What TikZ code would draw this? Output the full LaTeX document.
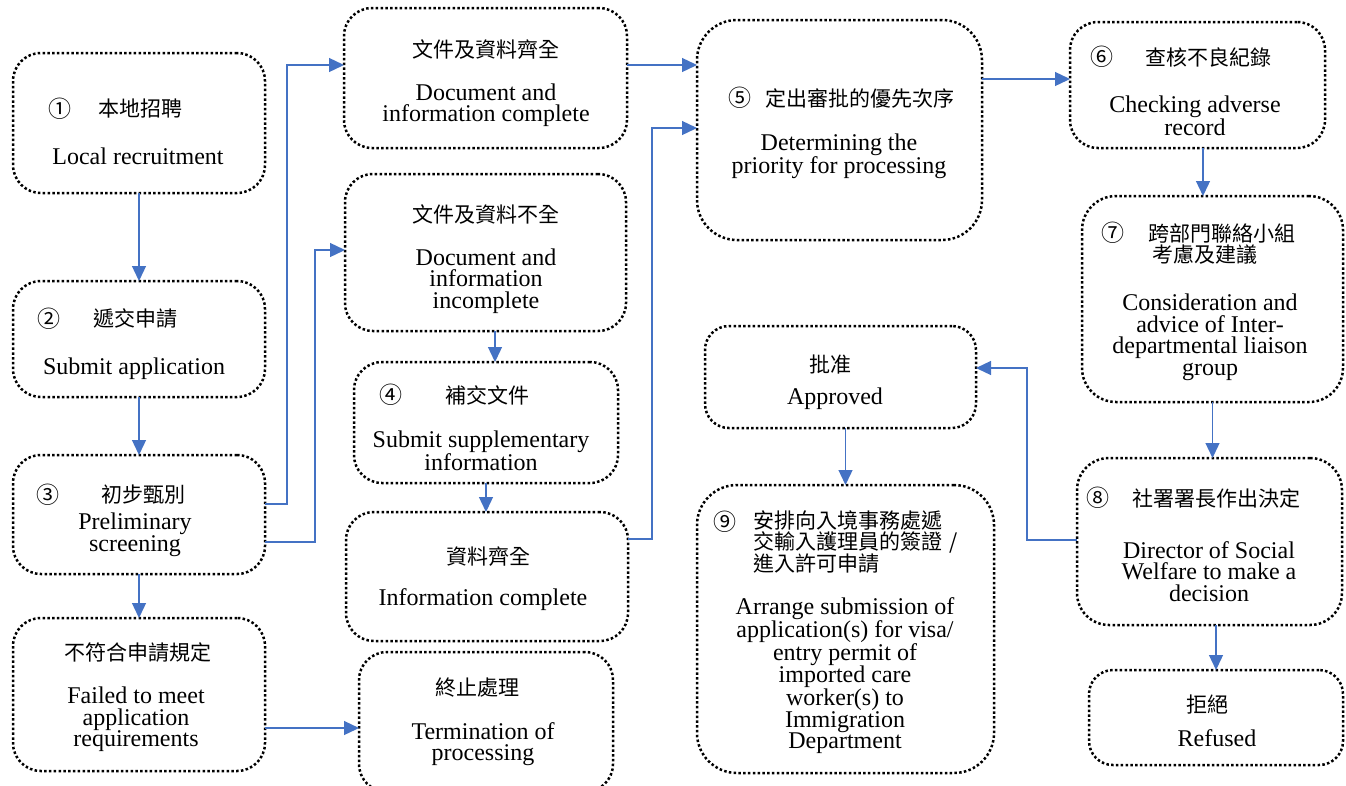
\documentclass[tikz,border=0pt]{standalone}
\usepackage{fontspec}
\setmainfont{Liberation Serif}
\newfontfamily\cjk{Noto Sans CJK TC}
\usetikzlibrary{arrows.meta}
\definecolor{conblue}{RGB}{68,114,196}
\tikzset{
  box/.style={draw=black, line width=2.5pt, dash pattern=on 2.5pt off 2.3pt, rounded corners=28pt, rectangle, inner sep=0pt, outer sep=0pt},
  conn/.style={draw=conblue, line width=1.3pt, -{Triangle[length=15pt,width=14pt]}},
  en/.style={inner sep=0pt, align=center, font=\fontsize{24}{21.5}\selectfont},
  zh/.style={inner sep=0pt, font=\cjk\fontsize{21}{21}\selectfont},
  zhml/.style={inner sep=0pt, align=left, anchor=west, font=\cjk\fontsize{21}{21.5}\selectfont},
  num/.style={inner sep=0pt, font=\cjk\fontsize{23}{23}\selectfont},
}
\begin{document}
\begin{tikzpicture}[x=1pt,y=-1pt]
\useasboundingbox (0,0) rectangle (1346,785);
% boxes
\node[box, minimum width=252pt, minimum height=140pt] (b1) at (139,123) {};
\node[box, minimum width=252pt, minimum height=116pt] (b2) at (139,339) {};
\node[box, minimum width=252pt, minimum height=119pt] (b3) at (139,514.5) {};
\node[box, minimum width=252pt, minimum height=153pt] (b4) at (139,694.5) {};
\node[box, minimum width=283pt, minimum height=140pt] (bA) at (485.5,78) {};
\node[box, minimum width=281pt, minimum height=157pt] (bB) at (485.5,252.5) {};
\node[box, minimum width=264pt, minimum height=121pt] (bC) at (486,422.5) {};
\node[box, minimum width=282pt, minimum height=129pt] (bD) at (487,576.5) {};
\node[box, minimum width=254pt, minimum height=140pt] (bE) at (486,722) {};
\node[box, rounded corners=40pt, minimum width=285pt, minimum height=220pt] (b5) at (839.5,130) {};
\node[box, minimum width=255pt, minimum height=126pt] (b6) at (1197.5,85) {};
\node[box, rounded corners=34pt, minimum width=261pt, minimum height=206pt] (b7) at (1212.5,299) {};
\node[box, rounded corners=32pt, minimum width=265pt, minimum height=167pt] (b8) at (1209.5,541.5) {};
\node[box, rounded corners=24pt, minimum width=254pt, minimum height=95pt] (bR) at (1216,717.5) {};
\node[box, rounded corners=24pt, minimum width=271pt, minimum height=102pt] (bAp) at (840.5,377) {};
\node[box, rounded corners=40pt, minimum width=297pt, minimum height=288pt] (b9) at (845.5,629) {};
% texts
\node[num] (n1) at (60,109) {①};
\node[zh] (z1) at (140,109) {本地招聘};
\node[en] (e1) at (138,156) {Local recruitment};
\node[num] (n2) at (49,319) {②};
\node[zh] (z2) at (135,319) {遞交申請};
\node[en] (e2) at (134,369) {Submit application};
\node[num] (n3) at (48,495) {③};
\node[zh] (z3) at (143,495) {初步甄別};
\node[en] (e3) at (135,535) {Preliminary\\screening};
\node[zh] (z4) at (138,653) {不符合申請規定};
\node[en] (e4) at (136,719.5) {Failed to meet\\application\\requirements};
\node[zh] (zA) at (486,50) {文件及資料齊全};
\node[en] (eA) at (486,105) {Document and\\information complete};
\node[zh] (zB) at (486,215) {文件及資料不全};
\node[en] (eB) at (486,281) {Document and\\information\\incomplete};
\node[num] (n4) at (391,395) {④};
\node[zh] (zC) at (487,395) {補交文件};
\node[en] (eC) at (481,450.5) {Submit supplementary\\information};
\node[zh] (zD) at (488,557) {資料齊全};
\node[en] (eD) at (483,600) {Information complete};
\node[zh] (zE) at (477,688) {終止處理};
\node[en] (eE) at (483,744) {Termination of\\processing};
\node[num] (n5) at (740,98) {⑤};
\node[zh] (z5) at (860,98) {定出審批的優先次序};
\node[en] (e5) at (839,156.5) {Determining the\\priority for processing};
\node[num] (n6) at (1102,57) {⑥};
\node[zh] (z6) at (1208,57) {查核不良紀錄};
\node[en] (e6) at (1195,115.5) {Checking adverse\\record};
\node[num] (n7) at (1113,233) {⑦};
\node[zhml] (z7) at (1148,244) {跨部門聯絡小組\\\hspace*{4pt}考慮及建議};
\node[en] (e7) at (1210,337.5) {Consideration and\\advice of Inter-\\departmental liaison\\group};
\node[num] (n8) at (1098,498) {⑧};
\node[zh] (z8) at (1216,498) {社署署長作出決定};
\node[en] (e8) at (1209,571.5) {Director of Social\\Welfare to make a\\decision};
\node[zh] (zR) at (1207,705) {拒絕};
\node[en] (eR) at (1217,738) {Refused};
\node[zh] (zAp) at (830,365) {批准};
\node[en] (eAp) at (835,399) {Approved};
\node[num] (n9) at (725,522) {⑨};
\node[zhml] (z9) at (753,542) {安排向入境事務處遞\\交輸入護理員的簽證\hspace{7pt}/\\進入許可申請};
\node[en] (e9) at (845,675.5) {Arrange submission of\\application(s) for visa/\\entry permit of\\imported care\\worker(s) to\\Immigration\\Department};
% junction coordinates
\coordinate (j1) at (287,504);
\coordinate (j2) at (287,65);
\coordinate (j3) at (315,542);
\coordinate (j4) at (315,250);
\coordinate (j6) at (652,539);
\coordinate (j7) at (652,128);
\coordinate (j9) at (1000,79);
\coordinate (j10) at (1027,540);
\coordinate (j11) at (1027,368);
\coordinate (j12) at (300,728);
% connectors
\draw[conn] (b1.south) -- (b2.north);
\draw[conn] (b2.south) -- (b3.north);
\draw[conn] (b3.south) -- (b4.north);
\draw[conn] (b3.east |- j1) -- (j1) -- (j2) -- (bA.west |- j2);
\draw[conn] (b3.east |- j3) -- (j3) -- (j4) -- (bB.west |- j4);
\draw[conn] ([xshift=9.5pt]bB.south) -- ([xshift=9.5pt]bB.south |- bC.north);
\draw[conn] (bC.south) -- (bC.south |- bD.north);
\draw[conn] (bD.east |- j6) -- (j6) -- (j7) -- (b5.west |- j7);
\draw[conn] (bA.east |- j2) -- (b5.west |- j2);
\draw[conn] (b5.east |- j9) -- (b6.west |- j9);
\draw[conn] ([xshift=5.5pt]b6.south) -- ([xshift=5.5pt]b6.south |- b7.north);
\draw[conn] (b7.south) -- (b7.south |- b8.north);
\draw[conn] (b8.west |- j10) -- (j10) -- (j11) -- (bAp.east |- j11);
\draw[conn] (bR.north |- b8.south) -- (bR.north);
\draw[conn] (b9.north |- bAp.south) -- (b9.north);
\draw[conn] (b4.east |- j12) -- (bE.west |- j12);
\end{tikzpicture}
\end{document}
